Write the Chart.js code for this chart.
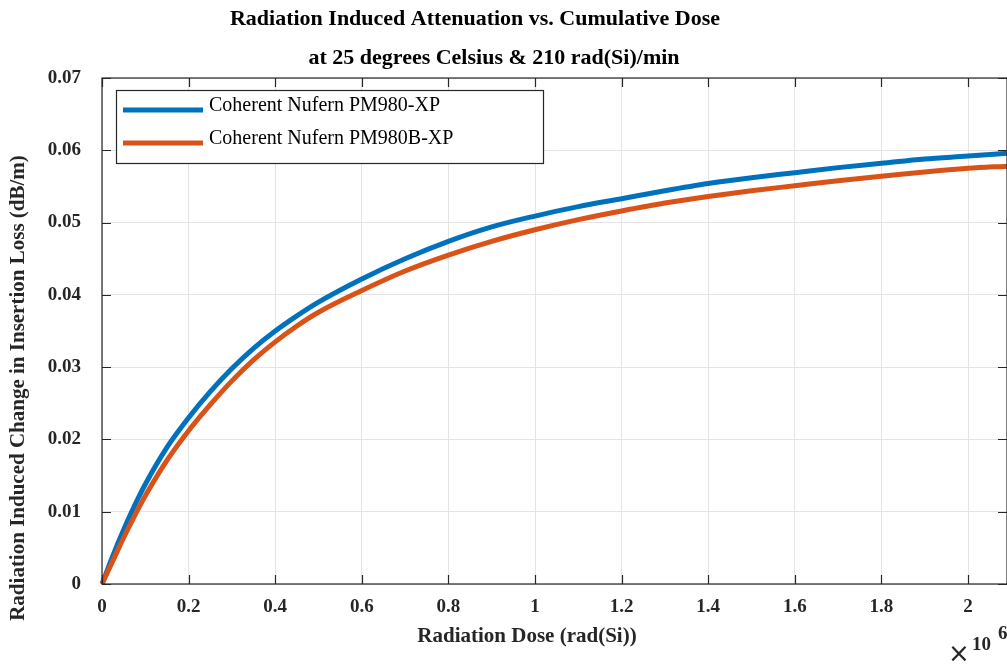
<!DOCTYPE html>
<html>
<head>
<meta charset="utf-8">
<script src="https://cdn.jsdelivr.net/npm/chart.js@4/dist/chart.umd.min.js"></script>
<style>
  html, body { margin: 0; padding: 0; background: #fff; }
  #wrap { width: 1007px; height: 664px; }
</style>
</head>
<body>
<div id="wrap"><canvas id="riaChart" width="1007" height="664"></canvas></div>
<script>
// dose in units of 10^6 rad(Si)
const dose = [0, 0.025, 0.05, 0.075, 0.1, 0.15, 0.2, 0.25, 0.3, 0.35, 0.4, 0.45, 0.5, 0.6, 0.7, 0.8, 0.9, 1.0, 1.1, 1.2, 1.3, 1.4, 1.5, 1.6, 1.7, 1.8, 1.9, 2.0, 2.09];
const pm980xp = [0, 0.0039, 0.0075, 0.0108, 0.0138, 0.0189, 0.0230, 0.0266, 0.0298, 0.0326, 0.0350, 0.0371, 0.0390, 0.0422, 0.0450, 0.0474, 0.0494, 0.0509, 0.0522, 0.0533, 0.0544, 0.0554, 0.0562, 0.0569, 0.0576, 0.0582, 0.0588, 0.0592, 0.0596];
const pm980bxp = [0, 0.0032, 0.0064, 0.0094, 0.0122, 0.0171, 0.0212, 0.0248, 0.0281, 0.0310, 0.0335, 0.0357, 0.0376, 0.0406, 0.0433, 0.0455, 0.0474, 0.0490, 0.0504, 0.0516, 0.0527, 0.0536, 0.0544, 0.0551, 0.0558, 0.0564, 0.0570, 0.0575, 0.0578];
const seriesNames = ["Coherent Nufern PM980-XP", "Coherent Nufern PM980B-XP"];
const xTicks = [0, 0.2, 0.4, 0.6, 0.8, 1, 1.2, 1.4, 1.6, 1.8, 2];
const yTicks = [0, 0.01, 0.02, 0.03, 0.04, 0.05, 0.06, 0.07];

const SERIF = "'Liberation Serif', 'Times New Roman', serif";
const AXIS = "#262626";

function toXY(ys) {
    return dose.map((d, i) => ({ x: d, y: ys[i] }));
}

// matlab style: ticks inside, box on, titles/labels placed by hand
const decor = {
    id: "decor",
    afterDraw(chart) {
        const ctx = chart.ctx;
        const a = chart.chartArea;
        const xs = chart.scales.x, ys = chart.scales.y;
        ctx.save();

        // box
        ctx.strokeStyle = AXIS;
        ctx.lineWidth = 1.2;
        ctx.strokeRect(a.left, a.top, a.right - a.left, a.bottom - a.top);

        // inward ticks
        const tl = 9;
        ctx.beginPath();
        xTicks.forEach(v => {
            const px = Math.round(xs.getPixelForValue(v)) + 0.5;
            ctx.moveTo(px, a.bottom); ctx.lineTo(px, a.bottom - tl);
            ctx.moveTo(px, a.top); ctx.lineTo(px, a.top + tl);
        });
        yTicks.forEach(v => {
            const py = Math.round(ys.getPixelForValue(v)) + 0.5;
            ctx.moveTo(a.left, py); ctx.lineTo(a.left + tl, py);
            ctx.moveTo(a.right, py); ctx.lineTo(a.right - tl, py);
        });
        ctx.stroke();

        // titles
        ctx.fillStyle = "#000";
        ctx.textAlign = "center";
        ctx.textBaseline = "middle";
        ctx.font = "bold 22px " + SERIF;
        ctx.fillText("Radiation Induced Attenuation vs. Cumulative Dose", 475, 19);
        ctx.fillText("at 25 degrees Celsius & 210 rad(Si)/min", 494, 58);

        // axis labels
        ctx.fillStyle = "#262626";
        ctx.font = "bold 21px " + SERIF;
        ctx.fillText("Radiation Dose (rad(Si))", 527, 637);
        ctx.save();
        ctx.translate(19, 388);
        ctx.rotate(-Math.PI / 2);
        ctx.fillText("Radiation Induced Change in Insertion Loss (dB/m)", 0, 0);
        ctx.restore();

        // exponent
        ctx.font = "26px 'DejaVu Sans', sans-serif";
        ctx.textAlign = "left";
        ctx.fillText("\u00d7", 948, 655);
        ctx.font = "bold 19px " + SERIF;
        ctx.fillText("10", 972, 645);
        ctx.fillText("6", 998, 634);

        // legend
        const lx = 116, ly = 90, lw = 427, lh = 73;
        ctx.fillStyle = "#fff";
        ctx.fillRect(lx, ly, lw, lh);
        ctx.strokeStyle = AXIS;
        ctx.lineWidth = 1.2;
        ctx.strokeRect(lx + 0.5, ly + 0.5, lw, lh);
        ctx.font = "20px " + SERIF;
        ctx.textAlign = "left";
        chart.data.datasets.forEach((ds, i) => {
            const yy = 110 + i * 33;
            ctx.strokeStyle = ds.borderColor;
            ctx.lineWidth = 5;
            ctx.beginPath();
            ctx.moveTo(123, yy); ctx.lineTo(203, yy);
            ctx.stroke();
            ctx.fillStyle = "#000";
            ctx.fillText(ds.label, 209, yy - 4);
        });
        ctx.restore();
    }
};

new Chart(document.getElementById("riaChart").getContext("2d"), {
    type: "line",
    data: {
        datasets: [{
            label: seriesNames[0],
            data: toXY(pm980xp),
            borderColor: "#0072BD",
            borderWidth: 5,
            pointRadius: 0,
            cubicInterpolationMode: "monotone",
            order: 2
        }, {
            label: seriesNames[1],
            data: toXY(pm980bxp),
            borderColor: "#D95319",
            borderWidth: 5,
            pointRadius: 0,
            cubicInterpolationMode: "monotone",
            order: 1
        }]
    },
    options: {
        responsive: false,
        animation: false,
        clip: false,
        layout: { padding: { left: 0, top: 78, right: 0, bottom: 0 } },
        plugins: {
            legend: { display: false },
            title: { display: false },
            tooltip: { enabled: false }
        },
        scales: {
            x: {
                type: "linear",
                min: 0,
                max: 2.09,
                afterFit: s => { s.height = 80; },
                afterBuildTicks: s => { s.ticks = xTicks.map(v => ({ value: v })); },
                grid: { color: "#e4e4e4", lineWidth: 1, drawTicks: false },
                border: { display: false },
                ticks: {
                    padding: 12,
                    color: "#262626",
                    font: { family: SERIF, size: 19, weight: "bold" },
                    callback: v => String(v)
                }
            },
            y: {
                type: "linear",
                min: 0,
                max: 0.07,
                afterFit: s => { s.width = 102; },
                afterBuildTicks: s => { s.ticks = yTicks.map(v => ({ value: v })); },
                grid: { color: "#e4e4e4", lineWidth: 1, drawTicks: false },
                border: { display: false },
                ticks: {
                    padding: 21,
                    color: "#262626",
                    font: { family: SERIF, size: 19, weight: "bold" },
                    callback: v => String(v)
                }
            }
        }
    },
    plugins: [decor]
});
</script>
</body>
</html>
